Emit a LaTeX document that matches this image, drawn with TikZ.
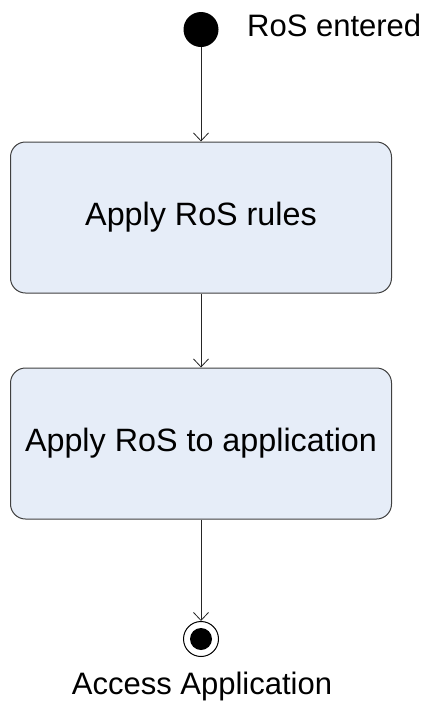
\documentclass[tikz,border=0pt]{standalone}
\usepackage{fontspec}
\setmainfont{Liberation Sans}
\usetikzlibrary{arrows.meta}
\definecolor{boxfill}{RGB}{230,237,248}
\definecolor{boxline}{RGB}{64,64,64}
\begin{document}
\begin{tikzpicture}[x=1pt,y=-1pt,
  font=\fontsize{31}{37}\selectfont,
  activity/.style={draw=boxline, line width=1pt, fill=boxfill, rounded corners=15pt,
    minimum width=381pt, minimum height=151pt, inner sep=0pt, font=\fontsize{32.3}{38}\selectfont},
  startnode/.style={circle, fill=black, minimum size=35pt, inner sep=0pt},
  endnode/.style={circle, draw=black, line width=1pt, minimum size=35pt, inner sep=0pt,
    path picture={\fill[black] (path picture bounding box.center) circle (11pt);}},
  flow/.style={draw=black!85, line width=0.8pt, -{Straight Barb[length=8pt,width=15pt]}}]
\useasboundingbox (0,0) rectangle (430,702);
\node[startnode] (start) at (201,29.5) {};
\node[anchor=base west, inner sep=0pt] (startlbl) at (247,36.5) {RoS entered};
\node[activity] (a1) at (201,217.5) {\raisebox{-1.5pt}{Apply RoS rules}};
\node[activity] (a2) at (201,443.5) {\raisebox{-1.5pt}{Apply RoS to application}};
\node[endnode] (end) at (201,639) {};
\node[anchor=base, inner sep=0pt] (endlbl) at (202,694) {Access Application};
\draw[flow] (start) -- (a1);
\draw[flow] (a1) -- (a2);
\draw[flow] (a2) -- (end);
\end{tikzpicture}
\end{document}
